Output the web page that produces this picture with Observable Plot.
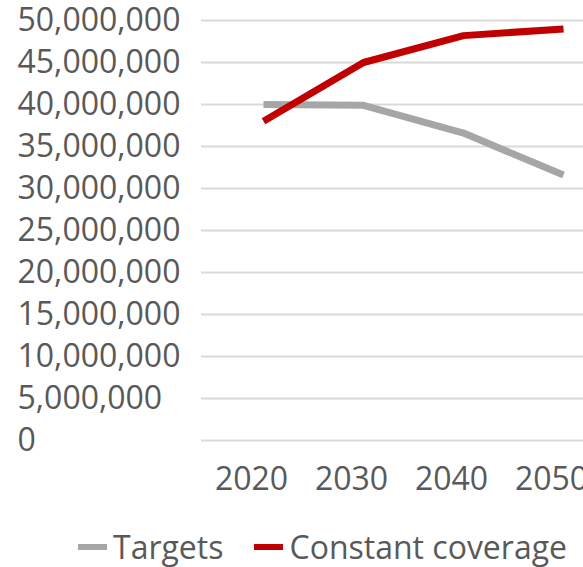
<!DOCTYPE html>
<html><head><meta charset="utf-8">
<script src="https://cdn.jsdelivr.net/npm/d3@7"></script>
<script src="https://cdn.jsdelivr.net/npm/@observablehq/plot@0.6"></script>
<style>
html,body{margin:0;padding:0;background:#fff;overflow:hidden;}
#wrap{position:relative;width:583px;height:567px;font-family:"Open Sans",sans-serif;color:#595959;}
#legend{position:absolute;left:78px;top:522px;height:50px;display:flex;align-items:center;font-size:32px;white-space:nowrap;line-height:50px;}
.item{display:flex;align-items:center;margin-right:31px;}
.sw{display:inline-block;width:29px;height:6px;margin-right:6px;}
</style></head><body><div id="wrap"><div id="chart"></div><div id="legend"></div></div>
<script>
const years = [2020, 2030, 2040, 2050];
const targets = [40.0e6, 39.9e6, 36.6e6, 31.6e6];
const constantCoverage = [38.0e6, 45.0e6, 48.2e6, 49.0e6];
const seriesNames = ["Targets", "Constant coverage"];
const seriesColors = ["#A6A6A6", "#C00000"];
const yTicks = [0, 5e6, 10e6, 15e6, 20e6, 25e6, 30e6, 35e6, 40e6, 45e6, 50e6];

const rows = [];
years.forEach((yr, i) => {
  rows.push({year: yr, value: targets[i], series: seriesNames[0]});
});
years.forEach((yr, i) => {
  rows.push({year: yr, value: constantCoverage[i], series: seriesNames[1]});
});

const chart = Plot.plot({
  width: 583,
  height: 500,
  marginLeft: 201,
  marginRight: 0,
  marginTop: 20,
  marginBottom: 60,
  style: {fontFamily: "'Open Sans', sans-serif", fontSize: "32px", color: "#595959", background: "#fff", overflow: "visible"},
  x: {type: "point", domain: years, range: [263, 563], padding: 0},
  y: {domain: [0, 50e6]},
  color: {domain: seriesNames, range: seriesColors},
  marks: [
    Plot.ruleY(yTicks, {stroke: "#D9D9D9", strokeWidth: 2}),
    Plot.axisY(yTicks, {tickSize: 0, tickPadding: 184, textAnchor: "start", tickFormat: d3.format(","), fill: "#595959", label: null}),
    Plot.axisX(years, {tickSize: 0, tickPadding: 27, dx: -12, tickFormat: d => String(d), fill: "#595959", label: null}),
    Plot.line(rows, {x: "year", y: "value", z: "series", stroke: "series", strokeWidth: 7, strokeLinejoin: "round", strokeLinecap: "butt"})
  ]
});
document.getElementById("chart").appendChild(chart);

const legend = document.getElementById("legend");
seriesNames.forEach((name, i) => {
  const item = document.createElement("div");
  item.className = "item";
  const sw = document.createElement("span");
  sw.className = "sw";
  sw.style.background = seriesColors[i];
  const t = document.createElement("span");
  t.textContent = name;
  item.appendChild(sw);
  item.appendChild(t);
  legend.appendChild(item);
});
</script></body></html>
